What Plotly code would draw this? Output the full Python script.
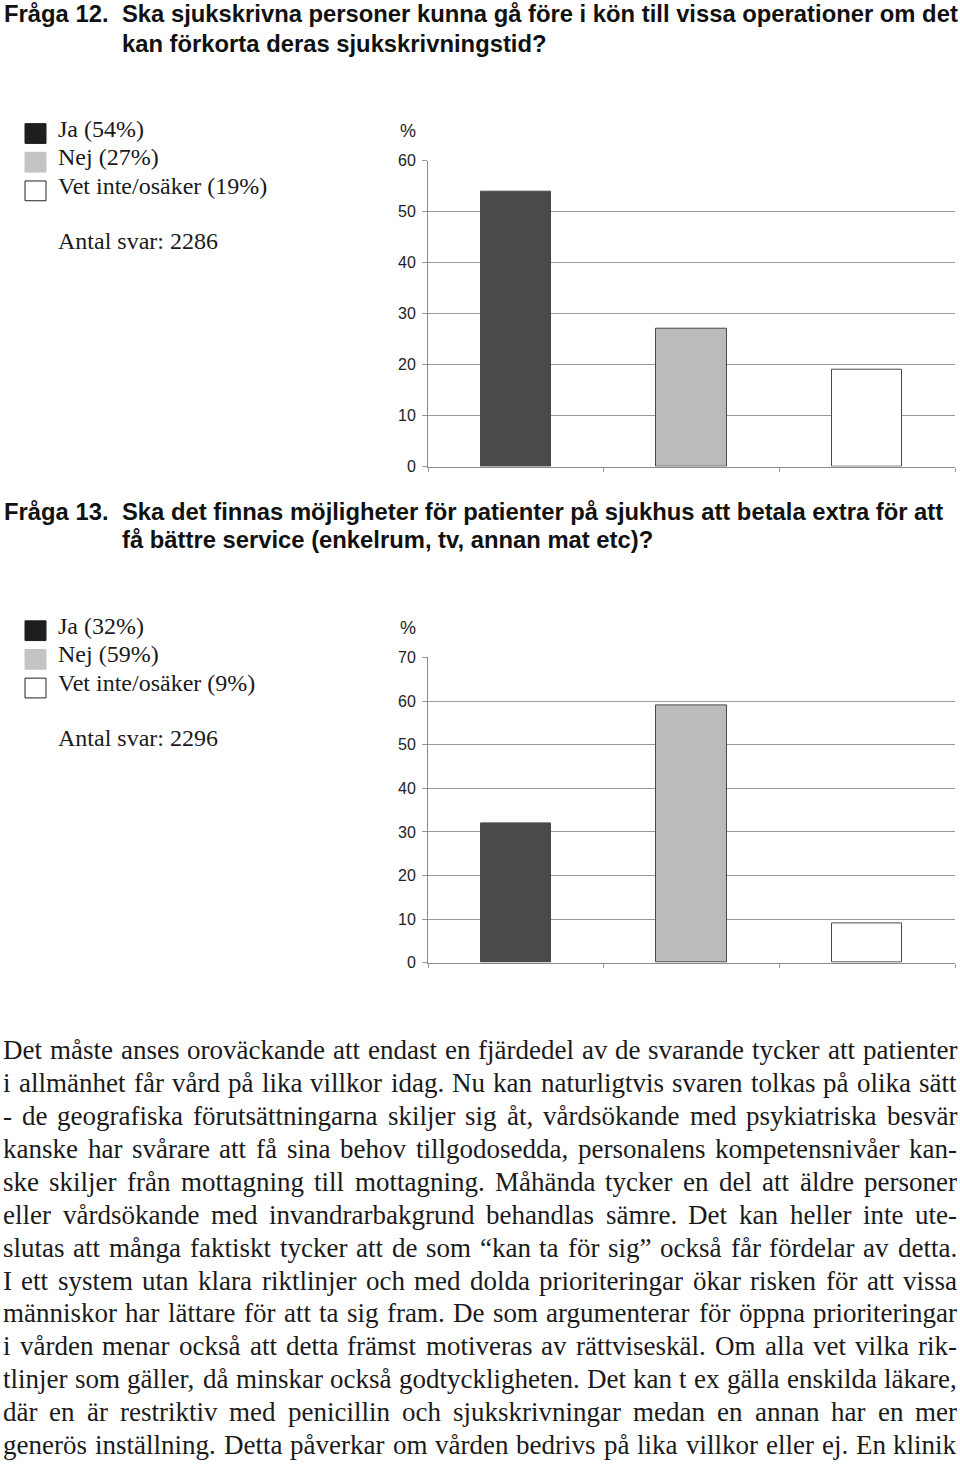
import plotly.graph_objects as go

# ---------------- data ----------------
categories = ["Ja", "Nej", "Vet inte/osäker"]
q12_values = [54, 27, 19]
q13_values = [32, 59, 9]
q12_n = 2286
q13_n = 2296
q12_title = ["Fråga 12.", "Ska sjukskrivna personer kunna gå före i kön till vissa operationer om det",
             "kan förkorta deras sjukskrivningstid?"]
q13_title = ["Fråga 13.", "Ska det finnas möjligheter för patienter på sjukhus att betala extra för att",
             "få bättre service (enkelrum, tv, annan mat etc)?"]
body_lines = [
    "Det måste anses oroväckande att endast en fjärdedel av de svarande tycker att patienter",
    "i allmänhet får vård på lika villkor idag. Nu kan naturligtvis svaren tolkas på olika sätt",
    "- de geografiska förutsättningarna skiljer sig åt, vårdsökande med psykiatriska besvär",
    "kanske har svårare att få sina behov tillgodosedda, personalens kompetensnivåer kan-",
    "ske skiljer från mottagning till mottagning. Måhända tycker en del att äldre personer",
    "eller vårdsökande med invandrarbakgrund behandlas sämre. Det kan heller inte ute-",
    "slutas att många faktiskt tycker att de som “kan ta för sig” också får fördelar av detta.",
    "I ett system utan klara riktlinjer och med dolda prioriteringar ökar risken för att vissa",
    "människor har lättare för att ta sig fram. De som argumenterar för öppna prioriteringar",
    "i vården menar också att detta främst motiveras av rättviseskäl. Om alla vet vilka rik-",
    "tlinjer som gäller, då minskar också godtyckligheten. Det kan t ex gälla enskilda läkare,",
    "där en är restriktiv med penicillin och sjukskrivningar medan en annan har en mer",
    "generös inställning. Detta påverkar om vården bedrivs på lika villkor eller ej. En klinik",
]

bar_fill = ["#4a4a4a", "#bbbbbb", "#ffffff"]
legend_fill = ["#1e1e1e", "#c4c4c4", "#ffffff"]

W, H = 960, 1467


def py(px):
    return 1 - px / H


def pxx(px):
    return px / W


# Times / Liberation Serif advance widths (per 1000 em) for justification
TW = {' ': 250, ',': 250, '.': 250, '-': 333, ':': 278, '(': 333, ')': 333, '%': 833,
      '“': 444, '”': 444, '?': 444,
      'A': 722, 'B': 667, 'C': 667, 'D': 722, 'E': 611, 'F': 556, 'G': 722, 'H': 722, 'I': 333,
      'J': 389, 'K': 722, 'L': 611, 'M': 889, 'N': 722, 'O': 722, 'P': 556, 'Q': 722, 'R': 667,
      'S': 556, 'T': 611, 'U': 722, 'V': 722, 'W': 944, 'X': 722, 'Y': 722, 'Z': 611,
      'a': 444, 'b': 500, 'c': 444, 'd': 500, 'e': 444, 'f': 333, 'g': 500, 'h': 500, 'i': 278,
      'j': 278, 'k': 500, 'l': 278, 'm': 778, 'n': 500, 'o': 500, 'p': 500, 'q': 500, 'r': 333,
      's': 389, 't': 278, 'u': 500, 'v': 500, 'w': 722, 'x': 500, 'y': 500, 'z': 444,
      'å': 444, 'ä': 444, 'ö': 500, 'Å': 722, 'Ä': 722, 'Ö': 722, 'é': 444}


def tw(s, size):
    return sum(TW.get(c, 500) for c in s) * size / 1000.0


fig = go.Figure()
xpos = list(range(len(categories)))
bar_style = dict(color=bar_fill, line=dict(color="#4a4a4a", width=1))
fig.add_trace(go.Bar(x=xpos, y=q12_values, width=0.4, marker=bar_style,
                     xaxis="x", yaxis="y", showlegend=False, hoverinfo="skip"))
fig.add_trace(go.Bar(x=xpos, y=q13_values, width=0.4, marker=bar_style,
                     xaxis="x2", yaxis="y2", showlegend=False, hoverinfo="skip"))

tickfont = dict(family="Liberation Sans, Arial", size=16, color="#222222")
xcommon = dict(range=[-0.5, 2.5], tickvals=[-0.5, 0.5, 1.5, 2.5], ticktext=["", "", "", ""],
               ticks="outside", ticklen=4, tickcolor="#999999", showgrid=False, zeroline=False,
               showline=True, linecolor="#8a8a8a", linewidth=1, domain=[pxx(428), pxx(955)], fixedrange=True)
ycommon = dict(dtick=10, ticks="outside", ticklen=5, tickcolor="#999999", showgrid=True, gridcolor="#9a9a9a",
               gridwidth=1, zeroline=False, showline=True, linecolor="#8a8a8a", linewidth=1,
               tickfont=tickfont, ticklabelstandoff=3)

fig.update_layout(
    width=W, height=H, margin=dict(l=0, r=0, t=0, b=0),
    paper_bgcolor="white", plot_bgcolor="white", bargap=0,
    xaxis=dict(**xcommon, anchor="y"),
    xaxis2=dict(**xcommon, anchor="y2"),
    yaxis=dict(**ycommon, range=[0, 60], domain=[py(464), py(154.5)], anchor="x"),
    yaxis2=dict(**ycommon, range=[0, 70], domain=[py(966), py(657)], anchor="x2"),
)

ann = []
shapes = []
title_font = dict(family="Liberation Sans, Arial", size=23.8, color="#111111")
legend_font = dict(family="Liberation Serif, Times New Roman", size=24, color="#1a1a1a")
BODY_SIZE = 27
body_font = dict(family="Liberation Serif, Times New Roman", size=BODY_SIZE, color="#1a1a1a")


def text_ann(text, x, y, font, anchor="left", pad=1):
    ann.append(dict(text=text, x=pxx(x), y=py(y), xref="paper", yref="paper",
                    xanchor=anchor, yanchor="middle", showarrow=False, font=font,
                    borderpad=pad, borderwidth=0))


def add_title(lines, y1, y2):
    text_ann("<b>%s</b>" % lines[0], 3, y1, title_font)
    text_ann("<b>%s</b>" % lines[1], 121, y1, title_font)
    text_ann("<b>%s</b>" % lines[2], 121, y2, title_font)


def add_legend(values, n, ytop, pct_y):
    step = 29
    for i, (cat, v) in enumerate(zip(categories, values)):
        y0 = ytop + i * step
        shapes.append(dict(type="rect", xref="paper", yref="paper", x0=pxx(25), x1=pxx(46),
                           y0=py(y0 + 20), y1=py(y0), fillcolor=legend_fill[i],
                           line=dict(color="#222222" if i == 2 else legend_fill[i], width=1)))
        text_ann("%s (%d%%)" % (cat, v), 57, y0 + 5, legend_font)
    text_ann("Antal svar: %d" % n, 57, ytop + 119, legend_font)
    text_ann("%", 399, pct_y, dict(family="Liberation Sans, Arial", size=18, color="#222222"))


add_title(q12_title, 6, 36)
add_title(q13_title, 509, 538)
add_legend(q12_values, q12_n, 117, 124)
add_legend(q13_values, q13_n, 620, 627)

# justified body text
LEFT, RIGHT = 3, 957
for i, line in enumerate(body_lines):
    y = 1054 + i * 33.35
    words = line.split(" ")
    widths = [tw(w, BODY_SIZE) for w in words]
    gap = (RIGHT - LEFT - sum(widths)) / (len(words) - 1)
    x = LEFT
    for j, w in enumerate(words):
        if j == len(words) - 1:
            text_ann(w, RIGHT, y, body_font, anchor="right", pad=0)
        else:
            text_ann(w, x, y, body_font, pad=0)
        x += widths[j] + gap

fig.update_layout(annotations=ann, shapes=shapes)
fig.write_html("out.html")
